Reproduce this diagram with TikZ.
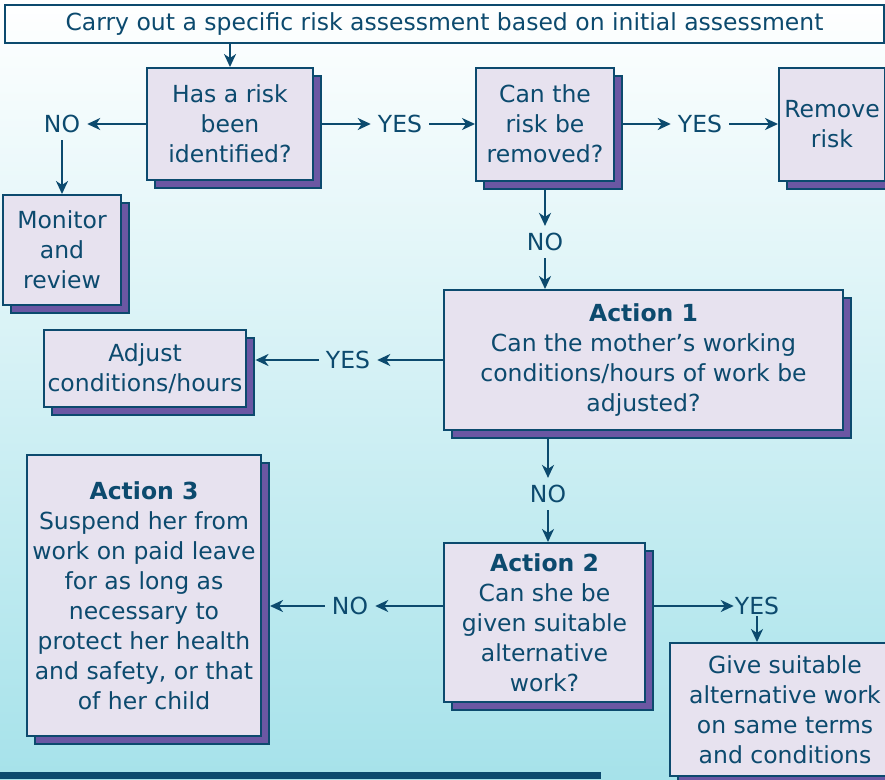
\documentclass[tikz,border=0pt]{standalone}
\usepackage{fontspec}
\setmainfont{DejaVu Sans}
\usetikzlibrary{arrows.meta,shadows}

\definecolor{navy}{HTML}{0C4A6E}
\definecolor{boxfill}{HTML}{E7E2EF}
\definecolor{shadowpurple}{HTML}{6B57A3}
\definecolor{bgmid}{HTML}{E6F7F9}
\definecolor{bgcyan}{HTML}{A6E2EA}

\tikzset{
	every node/.style={font=\fontsize{23.5}{30}\selectfont, text=navy},
	stepbox/.style={draw=navy, line width=2pt, fill=boxfill, align=center, inner sep=4pt,
		drop shadow={shadow xshift=8pt, shadow yshift=-8pt, fill=shadowpurple, draw=navy, line width=2pt, opacity=1}},
	lbl/.style={inner sep=7pt},
	flow/.style={->, navy, line width=2.2pt},
}

\begin{document}
\begin{tikzpicture}[x=1pt, y=-1pt, >={Stealth[length=13pt,width=12pt,inset=4pt]}]
	% Background
	\clip (0,0) rectangle (885,779);
	\shade [top color=white, middle color=bgmid, bottom color=bgcyan] (0,0) rectangle (885,779);
	\fill [navy] (0,772) rectangle (601,779);

	% Nodes
	\node [draw=navy, line width=2pt, minimum width=879pt, minimum height=38pt, inner sep=0pt]
		(start) at (444.5,24) {Carry out a specific risk assessment based on initial assessment};
	\node [stepbox, minimum width=166pt, minimum height=112pt] (risk)   at (230,124) {Has a risk\\been\\identified?};
	\node [stepbox, minimum width=138pt, minimum height=113pt] (remq)   at (545,124) {Can the\\risk be\\removed?};
	\node [stepbox, minimum width=106pt, minimum height=113pt] (remove) at (832,124) {Remove\\risk};
	\node [stepbox, minimum width=118pt, minimum height=110pt] (monitor) at (62,250) {Monitor\\and\\review};
	\node [stepbox, minimum width=399pt, minimum height=140pt] (act1)   at (643.5,360)
		{\textbf{Action 1}\\Can the mother’s working\\conditions/hours of work be\\adjusted?};
	\node [stepbox, minimum width=200pt, minimum height=77pt]  (adjust) at (145,368.5) {Adjust\\conditions/hours};
	\node [stepbox, minimum width=201pt, minimum height=159pt] (act2)   at (544.5,622.5)
		{\textbf{Action 2}\\Can she be\\given suitable\\alternative\\work?};
	\node [stepbox, minimum width=234pt, minimum height=281pt] (act3)   at (144,595.5)
		{\textbf{Action 3}\\Suspend her from\\work on paid leave\\for as long as\\necessary to\\protect her health\\and safety, or that\\of her child};
	\node [stepbox, minimum width=230pt, minimum height=133pt] (give)   at (785,709.5)
		{Give suitable\\alternative work\\on same terms\\and conditions};

	% Labels
	\node [lbl] (no1)  at (62,124)  {NO};
	\node [lbl] (yes1) at (400,124) {YES};
	\node [lbl] (yes2) at (700,124) {YES};
	\node [lbl] (no2)  at (545,242) {NO};
	\node [lbl] (yes3) at (348,360) {YES};
	\node [lbl] (no3)  at (548,494) {NO};
	\node [lbl] (no4)  at (350,606) {NO};
	\node [lbl, inner sep=1pt] (yes4) at (757,606) {YES};

	% Paths
	\path [flow] (risk.north |- start.south) edge (risk.north);
	\path [flow] (risk.west) edge (no1);
	\path [flow] (no1) edge (no1 |- monitor.north);
	\path [flow] ([xshift=8pt]risk.east) edge (yes1);
	\path [flow] (yes1) edge (remq.west);
	\path [flow] ([xshift=8pt]remq.east) edge (yes2);
	\path [flow] (yes2) edge (remove.west);
	\path [flow] ([yshift=-8pt]remq.south) edge (no2);
	\path [flow] (no2) edge (no2 |- act1.north);
	\path [flow] (act1.west |- yes3) edge (yes3);
	\path [flow] (yes3) edge ([xshift=8pt]adjust.east |- yes3);
	\path [flow] ([yshift=-8pt]no3 |- act1.south) edge (no3);
	\path [flow] (no3) edge (no3 |- act2.north);
	\path [flow] (act2.west |- no4) edge (no4);
	\path [flow] (no4) edge ([xshift=8pt]act3.east |- no4);
	\path [flow] ([xshift=8pt]act2.east |- yes4) edge (yes4);
	\path [flow] (yes4) edge (yes4 |- give.north);
\end{tikzpicture}
\end{document}
